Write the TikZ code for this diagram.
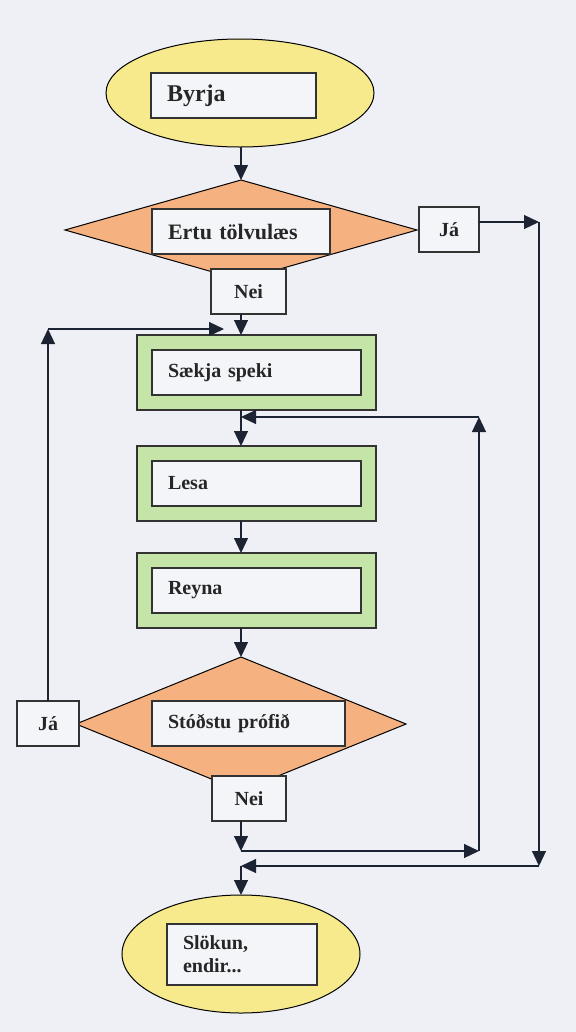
\documentclass[tikz,border=0pt]{standalone}
\usepackage{fontspec}
\setmainfont{Liberation Serif}
\usetikzlibrary{arrows.meta,shapes.geometric}
\definecolor{bakgrunnur}{RGB}{238,240,246}
\definecolor{gulur}{RGB}{246,234,140}
\definecolor{appelsina}{RGB}{245,178,128}
\definecolor{graenn}{RGB}{196,228,168}
\definecolor{hvitur}{RGB}{244,245,249}
\definecolor{lina}{RGB}{28,36,52}
\begin{document}
\begin{tikzpicture}[x=1bp, y=-1bp,
  >={Triangle[length=15bp,width=14bp]},
  every node/.style={font=\fontsize{20bp}{23bp}\selectfont\bfseries, text=black!85},
  byrjun/.style={ellipse, draw=black, line width=1bp, fill=gulur, inner sep=0pt, outer sep=0pt},
  spurning/.style={diamond, draw=black, line width=1bp, fill=appelsina, inner sep=0pt, outer sep=0pt},
  rammi/.style={rectangle, draw=black!80, line width=1.3bp, fill=graenn,
    minimum width=239bp, minimum height=75bp, outer sep=0pt},
  reitur/.style={rectangle, draw=black!80, line width=1.3bp, fill=hvitur, align=left,
    inner xsep=16bp, inner ysep=0pt, minimum height=45bp},
  svar/.style={rectangle, draw=black!80, line width=1.3bp, fill=hvitur,
    minimum width=60bp, minimum height=45bp, inner sep=0pt, outer sep=0pt},
  leid/.style={->, draw=lina, line width=1.2bp}]

\fill[bakgrunnur] (0,0) rectangle (576,1032);
\useasboundingbox (0,0) rectangle (576,1032);
\coordinate (col) at (241,0);

%==== upphaf ====
\node[byrjun, minimum width=268bp, minimum height=108bp] (upphaf) at (240,93) {};
\node[reitur, text width=133bp, font=\fontsize{24bp}{27bp}\selectfont\bfseries]
  (byrja) at (233.5,95.5) {Byrja};

%==== fyrsta spurning ====
\node[spurning, minimum width=352bp, minimum height=100bp] (spurn1) at (241,230) {};
\node[reitur, text width=146bp, font=\fontsize{22bp}{25bp}\selectfont\bfseries]
  (ertu) at (241,231.5) {Ertu tölvulæs};
\node[svar] (ja1) at (449,229.5) {Já};
\node[svar, minimum width=75bp] (nei1) at (248.5,291.5) {Nei};

%==== grænu reitirnir ====
\node[rammi] (saekjaR) at (256.5,372.5) {};
\node[reitur, text width=177bp] (saekja) at (256.5,372.5) {Sækja speki};
\node[rammi] (lesaR) at (256.5,483.5) {};
\node[reitur, text width=177bp] (lesa) at (256.5,483.5) {Lesa};
\node[rammi] (reynaR) at (256.5,590.5) {};
\node[reitur, text width=177bp] (reyna) at (256.5,590.5) {Reyna};

%==== seinni spurning ====
\node[spurning, minimum width=330bp, minimum height=134bp] (spurn2) at (241,724) {};
\node[reitur, text width=161bp] (stod) at (248.5,723.5) {Stóðstu prófið};
\node[svar, minimum width=62bp] (ja2) at (48,723.5) {Já};
\node[svar, minimum width=74bp] (nei2) at (249,798.5) {Nei};

%==== lok ====
\node[byrjun, minimum width=238bp, minimum height=118bp] (lok) at (241,954) {};
\node[reitur, text width=118bp, minimum height=61bp] (slokun) at (242,954.5)
  {Slökun,\\endir...};

% horn á leiðunum
\coordinate (h1) at (539,222);
\coordinate (h2) at (539,866);
\coordinate (h3) at (241,866);
\coordinate (i1) at (241,851);
\coordinate (i2) at (479,851);
\coordinate (i3) at (479,417);
\coordinate (i4) at (241,417);
\coordinate (v1) at (48,329);
\coordinate (v2) at (224,329);

% aðalleið
\draw[leid] (upphaf.south -| col) -- (spurn1.north);
\draw[leid] (nei1.south -| col) -- (saekjaR.north -| col);
\draw[leid] (saekjaR.south -| col) -- (lesaR.north -| col);
\draw[leid] (lesaR.south -| col) -- (reynaR.north -| col);
\draw[leid] (reynaR.south -| col) -- (spurn2.north);

% nei -> aftur að lesa
\draw[leid] (nei2.south -| col) -- (i1);
\draw[leid] (i1) -- (i2);
\draw[leid] (i2) -- (i3);
\draw[leid] (i3) -- (i4);

% já -> beint í lok
\draw[leid] (ja1.east |- h1) -- (h1);
\draw[leid] (h1) -- (h2);
\draw[leid] (h2) -- (h3);
\draw[leid] (h3) -- (lok.north);

% já -> sækja speki aftur
\draw[leid] (ja2.north) -- (v1);
\draw[leid] (v1) -- (v2);

\end{tikzpicture}
\end{document}
